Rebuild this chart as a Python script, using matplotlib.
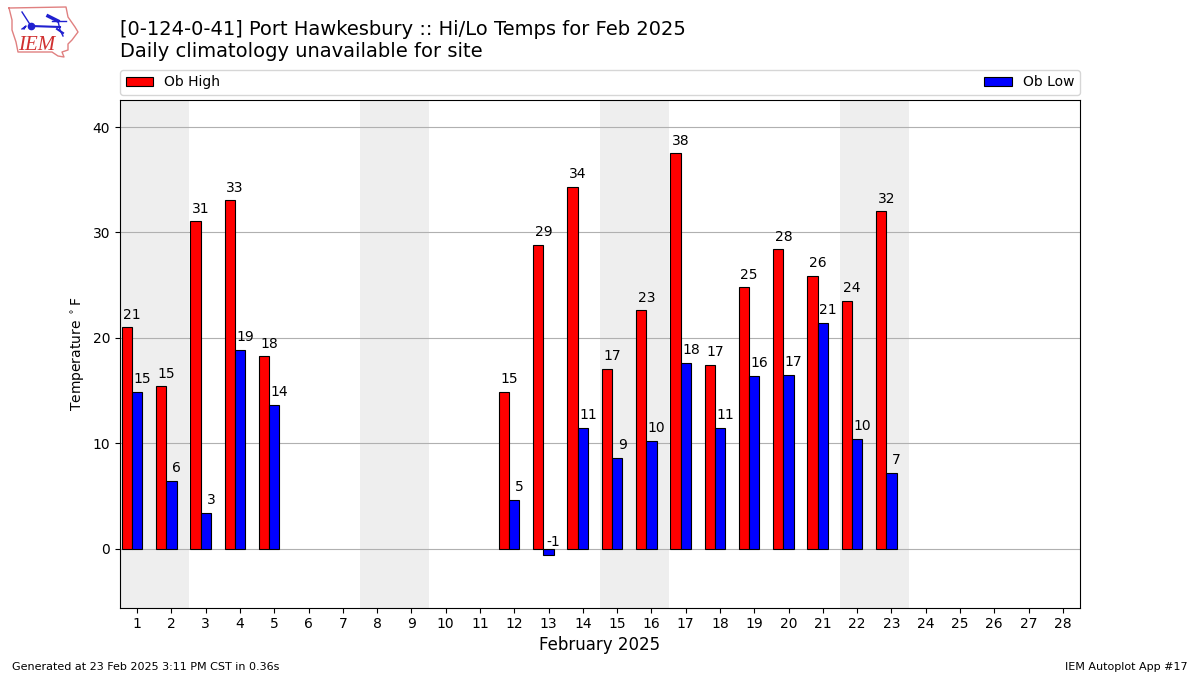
# -*- coding: utf-8 -*-
import numpy as np
import matplotlib
matplotlib.use('Agg')
import matplotlib.pyplot as plt

days = [1, 2, 3, 4, 5, 12, 13, 14, 15, 16, 17, 18, 19, 20, 21, 22, 23]
highs = [21, 15.4, 31.05, 33.05, 18.25, 14.85, 28.85, 34.3, 17.05, 22.6, 37.5, 17.4, 24.8,
         28.4, 25.85, 23.5, 32]
lows = [14.85, 6.4, 3.4, 18.85, 13.65, 4.6, -0.6, 11.45, 8.6, 10.2, 17.6, 11.45, 16.4,
        16.5, 21.4, 10.4, 7.2]
high_labels = [21, 15, 31, 33, 18, 15, 29, 34, 17, 23, 38, 17, 25, 28, 26, 24, 32]
low_labels = [15, 6, 3, 19, 14, 5, -1, 11, 9, 10, 18, 11, 16, 17, 21, 10, 7]
weekends = [1, 8, 15, 22]

title1 = '[0-124-0-41] Port Hawkesbury :: Hi/Lo Temps for Feb 2025'
title2 = 'Daily climatology unavailable for site'

fig = plt.figure(figsize=(12, 6.75), dpi=100)
ax = fig.add_axes([120 / 1200, 1 - 607.7 / 675, 960 / 1200, 508 / 675])

x = np.array(days)
ax.bar(x - 0.3, highs, width=0.3, color='red', edgecolor='k', linewidth=0.8,
       label='Ob High', zorder=3)
ax.bar(x, lows, width=0.3, color='blue', edgecolor='k', linewidth=0.8,
       label='Ob Low', zorder=3)

for i in range(len(days)):
    ax.text(days[i] - 0.15, highs[i] + 0.55, str(high_labels[i]), ha='center',
            va='bottom', fontsize=10, zorder=4)
    ax.text(days[i] + 0.15, lows[i] + 0.55, str(low_labels[i]), ha='center',
            va='bottom', fontsize=10, zorder=4)

for w in weekends:
    ax.axvspan(w - 0.5, w + 1.5, color='#eeeeee', lw=0, zorder=0)

ax.set_xlim(0.5, 28.5)
ax.set_ylim(-5.6, 42.6)
ax.set_xticks(range(1, 29))
ax.set_yticks([0, 10, 20, 30, 40])
ax.tick_params(labelsize=10)
ax.grid(axis='y', color='#b0b0b0', lw=0.8, zorder=1)
ax.set_axisbelow(True)
ax.set_xlabel('February 2025', fontsize=12, labelpad=3)
ax.set_ylabel(r'Temperature $^\circ$F', fontsize=10)
ax.legend(bbox_to_anchor=(0, 1.0095, 1, 0.055), loc='lower left', ncol=2,
          mode='expand', borderaxespad=0, fontsize=10)

fig.text(119.5 / 1200, 1 - 35 / 675, title1, fontsize=14, va='baseline')
fig.text(119.5 / 1200, 1 - 57 / 675, title2, fontsize=14, va='baseline')
fig.text(12 / 1200, 1 - 670 / 675, 'Generated at 23 Feb 2025 3:11 PM CST in 0.36s', fontsize=8)
fig.text(1188 / 1200, 1 - 670 / 675, 'IEM Autoplot App #17', fontsize=8, ha='right')

# rough logo
logo = fig.add_axes([0, 1 - 60 / 675, 80 / 1200, 60 / 675])
logo.set_xlim(0, 80)
logo.set_ylim(60, 0)
logo.axis('off')
ox = [9, 66, 68, 75, 78, 72, 68, 68, 62, 64, 58, 52, 18, 16, 12, 12, 9]
oy = [8, 7, 17, 27, 32, 40, 44, 50, 52, 57, 56, 52, 52, 42, 30, 20, 8]
logo.plot(ox, oy, color='#e08080', lw=1)
logo.plot([31, 60], [26, 27], color='#2020d0', lw=1.5)
logo.plot([22, 31], [12, 26], color='#2020d0', lw=1)
logo.plot([31], [26], 'o', color='#2020d0', ms=4.5)
logo.plot([24, 26, 22], [29, 26, 29], color='#2020d0', lw=1)
logo.plot([48, 58], [16, 21], color='#2020d0', lw=2.5)
logo.plot([52, 66], [21, 21], color='#2020d0', lw=1)
logo.plot([58, 60, 63], [21, 30, 36], color='#2020d0', lw=1)
logo.plot([57, 63], [29, 33], color='#2020d0', lw=1.5)
logo.text(37, 45.5, 'IEM', color='#d03030', family='Liberation Serif', style='italic',
          fontsize=15, ha='center', va='center')

fig.savefig('out.png', dpi=100)
